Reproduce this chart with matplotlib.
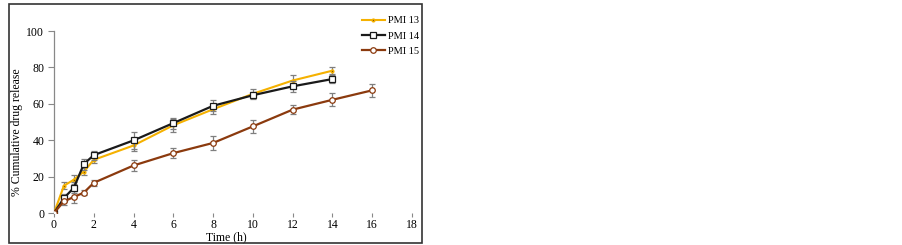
import matplotlib
matplotlib.use("Agg")
import matplotlib.pyplot as plt
from matplotlib.patches import Rectangle
from matplotlib.lines import Line2D

plt.rcParams['font.family'] = ['Liberation Serif', 'DejaVu Serif']

# data
t13 = [0, 0.5, 1, 1.5, 2, 4, 6, 8, 10, 12, 14]
pmi13 = [0, 15.0, 18.3, 22.8, 29.2, 37.1, 48.2, 57.0, 65.5, 72.8, 78.2]
err13 = [0, 2.0, 2.5, 2.0, 2.0, 3.0, 3.5, 2.5, 2.5, 3.0, 1.8]

t14 = [0, 0.5, 1, 1.5, 2, 4, 6, 8, 10, 12, 14]
pmi14 = [0, 8.2, 13.9, 26.9, 31.8, 39.9, 49.4, 58.9, 64.7, 69.6, 73.6]
err14 = [0, 2.0, 3.0, 3.0, 2.5, 4.5, 3.0, 3.0, 2.0, 3.0, 2.0]

t15 = [0, 0.5, 1, 1.5, 2, 4, 6, 8, 10, 12, 14, 16]
pmi15 = [0, 6.4, 8.8, 11.2, 16.6, 26.1, 32.9, 38.5, 47.6, 56.8, 62.2, 67.4]
err15 = [0, 2.0, 3.5, 1.5, 1.5, 3.0, 2.8, 4.0, 3.5, 2.5, 3.5, 3.5]

xticks = [0, 2, 4, 6, 8, 10, 12, 14, 16, 18]
yticks = [0, 20, 40, 60, 80, 100]

W, H = 903, 245
fig = plt.figure(figsize=(W / 100, H / 100), dpi=100)

## outer frame round the chart
fig.patches.append(Rectangle((9 / W, 1 - 243 / H), 413 / W, 239 / H,
                             transform=fig.transFigure, fill=False,
                             edgecolor='#333333', linewidth=1.2))

ax = fig.add_axes([54 / W, 1 - 213 / H, 358 / W, 182 / H])

c13, c14, c15 = '#F5B100', '#1a1a1a', '#8B3A0E'
ebar = dict(ecolor='#7f7f7f', elinewidth=0.9, capsize=2.2, capthick=0.9)
ax.errorbar(t13, pmi13, yerr=err13, color=c13, lw=1.5, marker='o',
            ms=2.0, mfc='#8a5a00', mec=c13, zorder=3, **ebar)
ax.errorbar(t14, pmi14, yerr=err14, color=c14, lw=1.6, marker='s',
            ms=4.0, mfc='white', mec=c14, mew=0.9, zorder=4, **ebar)
ax.errorbar(t15, pmi15, yerr=err15, color=c15, lw=1.6, marker='o',
            ms=4.0, mfc='white', mec=c15, mew=0.9, zorder=4, **ebar)

ax.set_xlim(0, 18)
ax.set_ylim(0, 100)
ax.set_xticks(xticks)
ax.set_yticks(yticks)
ax.tick_params(axis='both', labelsize=8.5, colors='#888888', labelcolor='black')
ax.tick_params(axis='x', length=3, width=0.8, pad=1.5)
ax.tick_params(axis='y', length=4, width=0.8, pad=3)
for s in ['top', 'right', 'bottom']:
    ax.spines[s].set_visible(False)
ax.spines['left'].set_color('#888888')
ax.spines['left'].set_linewidth(0.9)

ax.set_xlabel('Time (h)', fontsize=8.5)
ax.set_ylabel('% Cumulative drug release', fontsize=8.5)
ax.xaxis.set_label_coords((226 - 54) / 358, -(231 - 213) / 182)
ax.yaxis.set_label_coords(-(54 - 23) / 358, (213 - 132) / 182)

handles = [
    Line2D([], [], color=c13, lw=1.5, marker='o', ms=2.0, mfc='#8a5a00', mec=c13),
    Line2D([], [], color=c14, lw=1.6, marker='s', ms=4.0, mfc='white', mec=c14, mew=0.9),
    Line2D([], [], color=c15, lw=1.6, marker='o', ms=4.0, mfc='white', mec=c15, mew=0.9),
]
ax.legend(handles, ['PMI 13', 'PMI 14', 'PMI 15'], loc='upper left',
          bbox_to_anchor=(362 / W, 1 - 16 / H), bbox_transform=fig.transFigure,
          frameon=False, fontsize=7.5, handlelength=2.2, handletextpad=0.25,
          labelspacing=0.58, borderaxespad=0, borderpad=0)

fig.savefig('out.png', dpi=100)
